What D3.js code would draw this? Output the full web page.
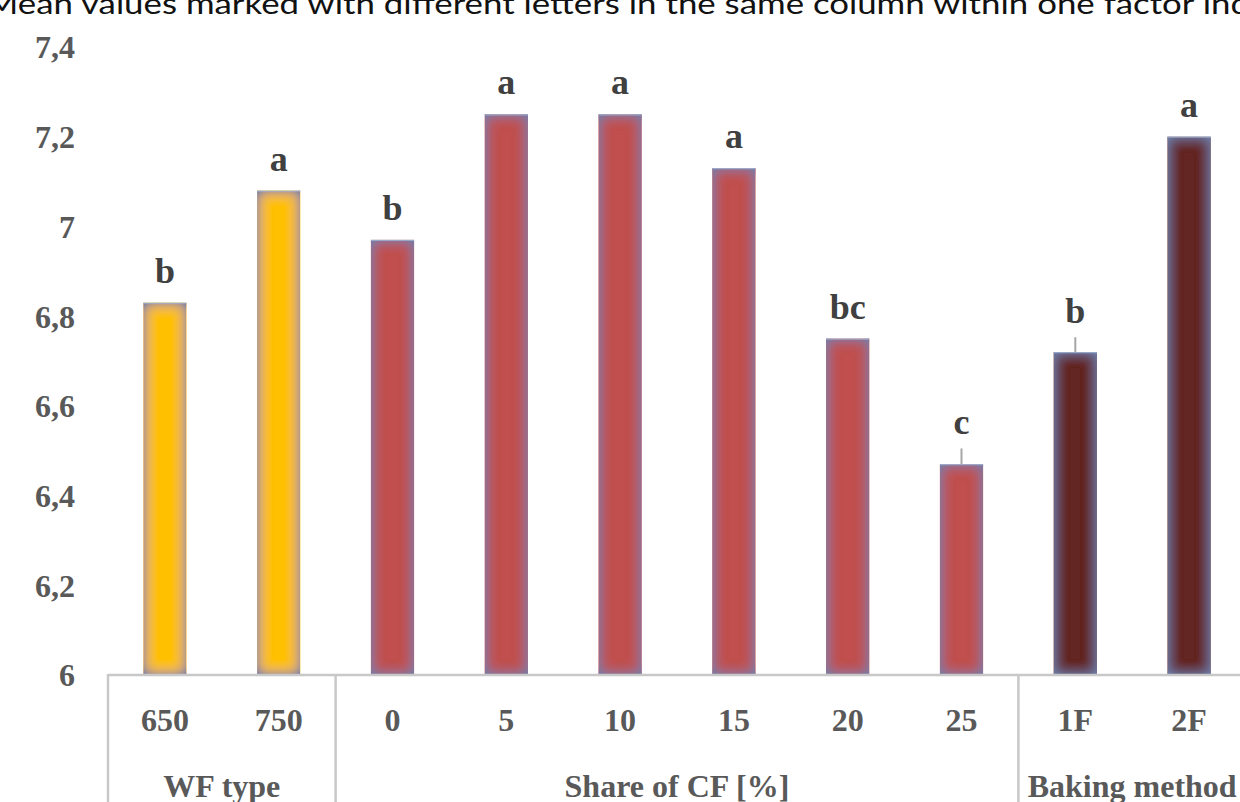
<!DOCTYPE html>
<html>
<head>
<meta charset="utf-8">
<script src="https://cdn.jsdelivr.net/npm/d3@7"></script>
<style>
  html, body { margin: 0; padding: 0; background: #fff; overflow: hidden; }
  svg { display: block; }
</style>
</head>
<body>
<svg id="chart" width="1240" height="802"></svg>
<script>
// Mean values by factor level
const categories = ["650", "750", "0", "5", "10", "15", "20", "25", "1F", "2F"];
const values     = [6.83, 7.08, 6.97, 7.25, 7.25, 7.13, 6.75, 6.47, 6.72, 7.20];
const errors     = [0, 0, 0, 0, 0, 0, 0, 0.035, 0.033, 0];
const letters    = ["b", "a", "b", "a", "a", "a", "bc", "c", "b", "a"];
const groupNames = ["WF type", "Share of CF [%]", "Baking method"];
const groupSizes = [2, 6, 2];
const groupFills = ["#FFC000", "#C0504D", "#632523"];
const yTicks     = [6, 6.2, 6.4, 6.6, 6.8, 7, 7.2, 7.4];
const note = "Mean values marked with different letters in the same column within one factor ind";

const svg = d3.select("#chart");
const serif = "'Liberation Serif', 'DejaVu Serif', serif";

const plotLeft = 108, plotRight = 1246, plotTop = 47, plotBase = 675;

const x = d3.scaleBand().domain(categories).range([plotLeft, plotRight])
  .paddingInner(0.62).paddingOuter(0.31);
const y = d3.scaleLinear().domain([6, 7.4]).range([plotBase, plotTop]);

// group index of every category
const groupOf = [];
groupSizes.forEach((n, g) => { for (let i = 0; i < n; i++) groupOf.push(g); });

// soft bluish inner glow on the bars
const defs = svg.append("defs");
const f = defs.append("filter").attr("id", "glow")
  .attr("x", "-10%").attr("y", "-10%").attr("width", "120%").attr("height", "120%");
f.append("feGaussianBlur").attr("in", "SourceAlpha").attr("stdDeviation", 7).attr("result", "blur");
f.append("feComposite").attr("in", "SourceAlpha").attr("in2", "blur")
  .attr("operator", "arithmetic").attr("k2", 1.5).attr("k3", -1.5).attr("result", "edge");
f.append("feFlood").attr("flood-color", "#6e7ea8").attr("flood-opacity", 0.9).attr("result", "col");
f.append("feComposite").attr("in", "col").attr("in2", "edge").attr("operator", "in").attr("result", "glowc");
const m = f.append("feMerge");
m.append("feMergeNode").attr("in", "SourceGraphic");
m.append("feMergeNode").attr("in", "glowc");

// note line
svg.append("text")
  .attr("x", -14).attr("y", 14)
  .attr("font-family", "Lato, 'Open Sans', sans-serif")
  .attr("font-size", 28)
  .attr("fill", "#111")
  .attr("textLength", 1264)
  .attr("lengthAdjust", "spacingAndGlyphs")
  .text(note);

// y axis labels (no axis line)
const yAxis = d3.axisLeft(y).tickValues(yTicks).tickSize(0).tickPadding(0)
  .tickFormat(d => d3.format("~g")(d).replace(".", ","));
const ya = svg.append("g").attr("transform", "translate(75,0)").call(yAxis);
ya.select(".domain").remove();
ya.selectAll("text")
  .attr("font-family", serif).attr("font-weight", "bold")
  .attr("font-size", 32).attr("fill", "#595959")
  .attr("dy", "0.34em");

// bars
svg.append("g").selectAll("rect").data(values).join("rect")
  .attr("x", (d, i) => x(categories[i]))
  .attr("y", d => y(d))
  .attr("width", x.bandwidth())
  .attr("height", d => plotBase - y(d))
  .attr("fill", (d, i) => groupFills[groupOf[i]])
  .attr("filter", "url(#glow)");

// thin light top edge on each bar
svg.append("g").selectAll("line").data(values).join("line")
  .attr("x1", (d, i) => x(categories[i]))
  .attr("x2", (d, i) => x(categories[i]) + x.bandwidth())
  .attr("y1", d => y(d) + 0.5).attr("y2", d => y(d) + 0.5)
  .attr("stroke", "#9fb4d6").attr("stroke-width", 1.2).attr("opacity", 0.8);

// error bars (upper whisker only)
const withErr = d3.range(values.length).filter(i => errors[i] > 0);
svg.append("g").selectAll("line").data(withErr).join("line")
  .attr("x1", i => x(categories[i]) + x.bandwidth() / 2)
  .attr("x2", i => x(categories[i]) + x.bandwidth() / 2)
  .attr("y1", i => y(values[i]))
  .attr("y2", i => y(values[i] + errors[i]))
  .attr("stroke", "#a6a6a6").attr("stroke-width", 2);

// significance letters
svg.append("g").selectAll("text").data(values).join("text")
  .attr("x", (d, i) => x(categories[i]) + x.bandwidth() / 2)
  .attr("y", (d, i) => y(d + errors[i]) - (errors[i] > 0 ? 14 : 20))
  .attr("text-anchor", "middle")
  .attr("font-family", serif).attr("font-weight", "bold")
  .attr("font-size", 36).attr("fill", "#404040")
  .text((d, i) => letters[i]);

// category axis frame
const frame = svg.append("g").attr("stroke", "#c8c8c8").attr("stroke-width", 2.5);
frame.append("line").attr("x1", plotLeft).attr("x2", 1240).attr("y1", plotBase).attr("y2", plotBase);
let acc = 0;
const bounds = [0];
groupSizes.forEach(n => { acc += n; bounds.push(acc); });
bounds.slice(0, -1).forEach(b => {
  const bx = plotLeft + b * x.step();
  frame.append("line").attr("x1", bx).attr("x2", bx).attr("y1", plotBase - 1).attr("y2", 802);
});

// category labels
svg.append("g").selectAll("text").data(categories).join("text")
  .attr("x", d => x(d) + x.bandwidth() / 2)
  .attr("y", 731)
  .attr("text-anchor", "middle")
  .attr("font-family", serif).attr("font-weight", "bold")
  .attr("font-size", 32).attr("fill", "#595959")
  .text(d => d);

// group labels
svg.append("g").selectAll("text").data(groupNames).join("text")
  .attr("x", (d, g) => plotLeft + (bounds[g] + bounds[g + 1]) / 2 * x.step())
  .attr("y", 797)
  .attr("text-anchor", "middle")
  .attr("font-family", serif).attr("font-weight", "bold")
  .attr("font-size", 32).attr("fill", "#595959")
  .text(d => d);
</script>
</body>
</html>
